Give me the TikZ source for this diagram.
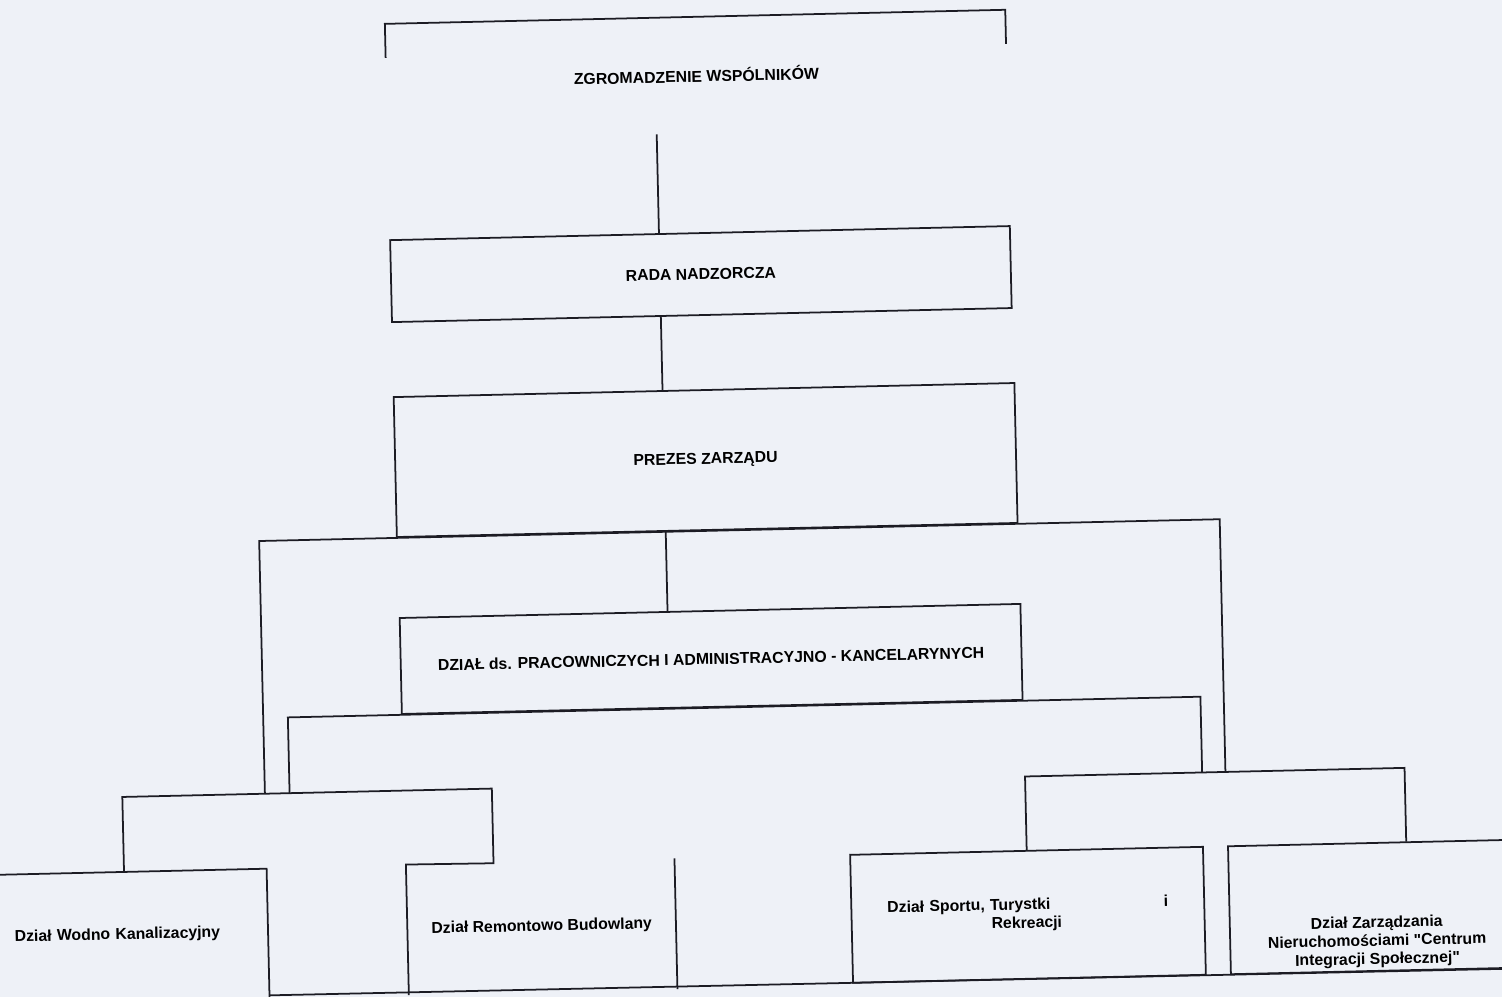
\documentclass[tikz,border=0pt]{standalone}
\usepackage{fontspec}
\setmainfont{Liberation Sans}[Ligatures=TeXOff]
\usepackage{tikz}
\usetikzlibrary{arrows,shapes}
\usetikzlibrary{positioning,calc}
\definecolor{paper}{RGB}{238,241,247}
\definecolor{ink}{RGB}{28,28,36}
\tikzstyle{box} = [draw=ink, rectangle, line width=1pt, inner sep=0pt,
    align=center, font=\fontsize{9}{10.5}\selectfont\bfseries]
\tikzstyle{frame} = [rectangle, inner sep=0pt, align=center,
    font=\fontsize{9}{10.5}\selectfont\bfseries]
\tikzstyle{link} = [draw=ink, line width=1pt]

\begin{document}
\begin{tikzpicture}[x=0.02cm, y=-0.02cm]
  \useasboundingbox (0,0) rectangle (1502,997);
  \clip (0,0) rectangle (1502,997);
  \fill[paper] (0,0) rectangle (1502,997);
  \begin{scope}[rotate around={1.3:(751,498.5)}, transform shape]
  % Place nodes
  \node [frame, minimum width=12.4cm, minimum height=2.32cm] (zw) at (706,74)
  {ZGROMADZENIE WSPÓLNIKÓW};
  \node [box, minimum width=12.4cm, minimum height=1.64cm] (rada) at (706,273)
  {RADA NADZORCZA};
  \node [box, minimum width=12.42cm, minimum height=2.8cm] (prezes) at (706.5,459)
  {PREZES ZARZĄDU};
  \node [box, minimum width=12.42cm, minimum height=1.92cm] (dzial) at (707.5,658)
  {DZIAŁ ds. PRACOWNICZYCH I ADMINISTRACYJNO - KANCELARYNYCH};
  \node [frame, minimum width=7.38cm, minimum height=1.48cm] (grpL) at (300.5,820) {};
  \node [frame, minimum width=7.58cm, minimum height=1.46cm] (grpR) at (1208.5,819.5) {};
  \node [frame, minimum width=5.56cm, minimum height=2.52cm, inner xsep=0.5cm,
    text width=4.56cm, align=left] (wodno) at (119,921)
  {Dział Wodno Kanalizacyjny};
  \node [frame, minimum width=5.36cm, minimum height=2.6cm] (remont) at (532,922)
  {Dział Remontowo Budowlany};
  \node [box, minimum width=7.06cm, minimum height=2.56cm, text width=5.62cm,
    align=left] (sport) at (1018.5,921)
  {Dział Sportu, Turystki\hfill i\\\hspace*{2.08cm}Rekreacji};
  \node [box, minimum width=6cm, minimum height=2.56cm] (zarzad) at (1370,921) {};
  \node [frame, font=\fontsize{9}{10.4}\selectfont\bfseries] (zarzadtxt) at (1367,956)
  {Dział Zarządzania\\Nieruchomościami "Centrum\\Integracji Społecznej"};
  \coordinate (spine) at (665,0);
  \coordinate (linkL) at (283,706);

  % Draw edges
  \draw [link] ($(zw.north west)+(0,34)$) -- (zw.north west) -- (zw.north east)
    -- ($(zw.north east)+(0,34)$);
  \draw [link] (zw.south -| spine) -- (rada.north -| spine);
  \draw [link] (rada.south -| spine) -- (prezes.north -| spine);
  \draw [link] (prezes.south -| spine) -- (dzial.north -| spine);
  \draw [link] (grpL.north -| wodno.east) |- (prezes.south)
    -| (grpR.north -| zarzad.west);
  \draw [link] (grpL.north -| linkL) |- (dzial.south) -| (grpR.north -| sport.east);
  \draw [link] (grpL.south west) -- (grpL.north west) -- (grpL.north east)
    -- (grpL.south east) -- (remont.north west) -- (remont.south west);
  \draw [link] (remont.north east) -- (remont.south east);
  \draw [link] (grpR.south west) -- (grpR.north west) -- (grpR.north east)
    -- (grpR.south east);
  \draw [link] ($(wodno.north west)+(-20,0)$) -- (wodno.north east)
    -- ($(wodno.south east)+(0,20)$);
  \draw [link] (wodno.south east) -- (zarzad.south east);
  \end{scope}
\end{tikzpicture}
\end{document}
